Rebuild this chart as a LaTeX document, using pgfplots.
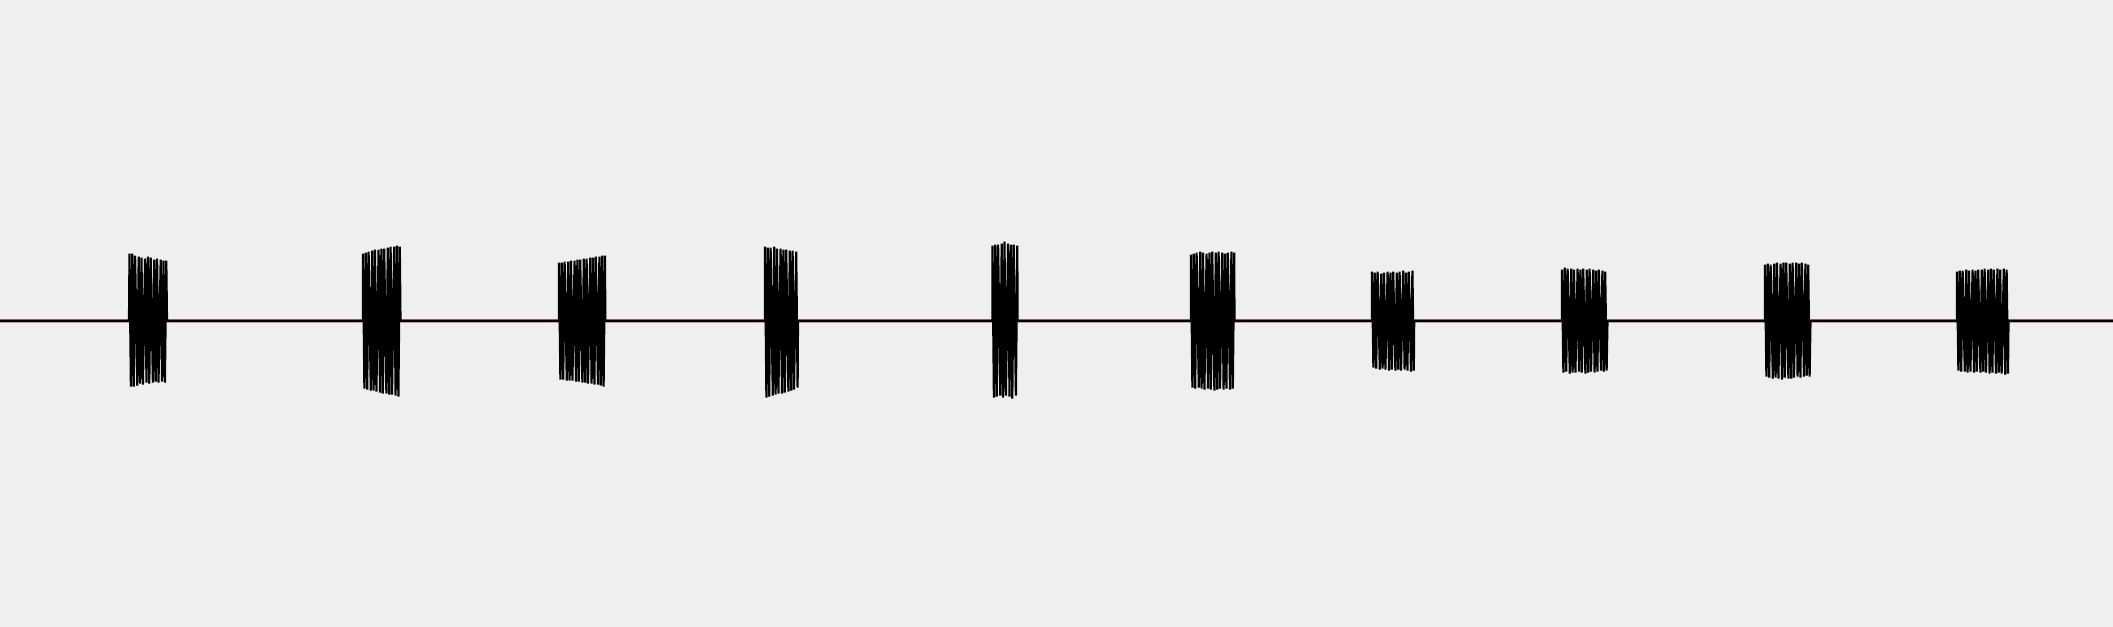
\documentclass[border=0pt]{standalone}
\usepackage{pgfplots}
\pgfplotsset{compat=1.18}
\definecolor{bgc}{RGB}{239,239,239}
\definecolor{pinkc}{RGB}{215,150,150}
\begin{document}
\begin{tikzpicture}
\begin{axis}[
  x=0.1mm, y=0.1mm,
  xmin=0, xmax=2113, ymin=-306.3, ymax=320.7,
  axis line style={draw=none},
  ticks=none,
  axis background/.style={fill=bgc},
  clip=true,
]
\addplot[pinkc, line width=1.1pt] coordinates {(0,0) (2113,0)};
\addplot[black, line width=0.5pt] coordinates {(0,0) (2113,0)};
\addplot[black, line width=0.62pt, line join=miter] coordinates {
(0,0) (129,0)
(129.5,67) (130.9,-66) (132.3,67) (133.7,-66) (135.1,65) (137.3,-65) (138.7,64) (140.1,-63) (141.5,63) (142.9,-64)
(145.1,62) (146.5,-62) (147.9,64) (149.3,-63) (150.7,63) (152.9,-62) (154.3,61) (155.7,-61) (157.1,62) (158.5,-62)
(160.7,61) (162.1,-61) (163.5,60) (164.9,-62) (166.3,60) (167,0)
(363,0)
(363.0,67) (364.4,-68) (365.8,68) (367.2,-69) (368.6,69) (370.8,-70) (372.2,70) (373.6,-70) (375.0,71) (376.4,-71)
(378.6,71) (380.0,-72) (381.4,72) (382.8,-73) (384.2,72) (386.4,-73) (387.8,73) (389.2,-74) (390.6,74) (392.0,-74)
(394.2,74) (395.6,-75) (397.0,75) (398.4,-76) (399.8,74) (400.5,0)
(559,0)
(559.0,58) (560.4,-59) (561.8,58) (563.2,-59) (564.6,59) (566.8,-60) (568.2,59) (569.6,-60) (571.0,60) (572.4,-60)
(574.6,60) (576.0,-61) (577.4,61) (578.8,-61) (580.2,61) (582.4,-62) (583.8,62) (585.2,-62) (586.6,62) (588.0,-63)
(590.2,63) (591.6,-63) (593.0,63) (594.4,-64) (595.8,64) (598.0,-64) (599.4,64) (600.8,-65) (602.2,65) (603.6,-66)
(605.0,65) (605.3,0)
(765,0)
(765.0,74) (766.4,-77) (767.8,73) (769.2,-76) (770.6,73) (772.8,-75) (774.2,74) (775.6,-74) (777.0,72) (778.4,-73)
(780.6,72) (782.0,-73) (783.4,71) (784.8,-72) (786.2,71) (788.4,-71) (789.8,70) (791.2,-70) (792.6,70) (794.0,-69)
(796.2,69) (797.6,-67) (798,0)
(992.5,0)
(992.5,75) (993.9,-77) (995.3,76) (996.7,-76) (998.1,76) (1000.3,-75) (1001.7,77) (1003.1,-77) (1004.5,79) (1005.9,-75)
(1008.1,77) (1009.5,-76) (1010.9,76) (1012.3,-78) (1013.7,76) (1015.9,-75) (1017.3,75) (1017.6,0)
(1191,0)
(1191.0,66) (1192.4,-67) (1193.8,67) (1195.2,-68) (1196.6,68) (1198.8,-67) (1200.2,69) (1201.6,-68) (1203.0,68) (1204.4,-69)
(1206.6,67) (1208.0,-68) (1209.4,68) (1210.8,-69) (1212.2,69) (1214.4,-70) (1215.8,68) (1217.2,-69) (1218.6,69) (1220.0,-68)
(1222.2,68) (1223.6,-69) (1225.0,67) (1226.4,-68) (1227.8,68) (1230.0,-69) (1231.4,69) (1232.8,-68) (1234.2,68) (1234.5,0)
(1372,0)
(1372.0,49) (1373.4,-47) (1374.8,48) (1376.2,-48) (1377.6,49) (1379.8,-49) (1381.2,47) (1382.6,-48) (1384.0,48) (1385.4,-49)
(1387.6,49) (1389.0,-50) (1390.4,48) (1391.8,-49) (1393.2,49) (1395.4,-50) (1396.8,48) (1398.2,-49) (1399.6,49) (1401.0,-50)
(1403.2,50) (1404.6,-49) (1406.0,48) (1407.4,-50) (1408.8,49) (1411.0,-51) (1412.4,50) (1413.8,-50) (1414.2,0)
(1562,0)
(1562.0,51) (1563.4,-52) (1564.8,53) (1566.2,-51) (1567.6,52) (1569.8,-53) (1571.2,52) (1572.6,-52) (1574.0,51) (1575.4,-52)
(1577.6,52) (1579.0,-51) (1580.4,51) (1581.8,-52) (1583.2,52) (1585.4,-53) (1586.8,51) (1588.2,-52) (1589.6,52) (1591.0,-51)
(1593.2,51) (1594.6,-52) (1596.0,50) (1597.4,-51) (1598.8,51) (1601.0,-50) (1602.4,50) (1603.8,-51) (1605.2,49) (1606.6,-50)
(1607.5,0)
(1765,0)
(1765.0,56) (1766.4,-56) (1767.8,57) (1769.2,-57) (1770.6,56) (1772.8,-58) (1774.2,57) (1775.6,-57) (1777.0,58) (1778.4,-58)
(1780.6,57) (1782.0,-59) (1783.4,58) (1784.8,-57) (1786.2,58) (1788.4,-58) (1789.8,57) (1791.2,-58) (1792.6,58) (1794.0,-57)
(1796.2,58) (1797.6,-56) (1799.0,57) (1800.4,-57) (1801.8,58) (1804.0,-56) (1805.4,57) (1806.8,-55) (1808.2,56) (1809.6,-56)
(1810.5,0)
(1957,0)
(1957.0,49) (1958.4,-50) (1959.8,50) (1961.2,-51) (1962.6,50) (1964.8,-51) (1966.2,51) (1967.6,-52) (1969.0,50) (1970.4,-51)
(1972.6,51) (1974.0,-52) (1975.4,50) (1976.8,-51) (1978.2,51) (1980.4,-52) (1981.8,51) (1983.2,-51) (1984.6,52) (1986.0,-52)
(1988.2,51) (1989.6,-53) (1991.0,52) (1992.4,-52) (1993.8,51) (1996.0,-53) (1997.4,52) (1998.8,-52) (2000.2,51) (2001.6,-53)
(2003.8,52) (2005.2,-54) (2006.6,51) (2008.0,-53) (2008.5,0)
(2113,0)
};
\end{axis}
\end{tikzpicture}
\end{document}
